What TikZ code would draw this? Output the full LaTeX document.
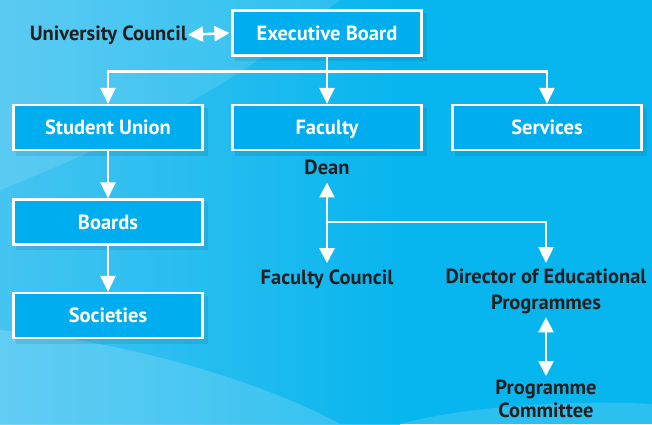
\documentclass[tikz,border=0pt]{standalone}
\usepackage{fontspec}
\setmainfont{PT Sans}
\usetikzlibrary{arrows.meta,calc}
\definecolor{bgbase}{HTML}{08B6EF}
\definecolor{bglight}{HTML}{55C8F2}
\definecolor{boxfill}{HTML}{00ADEE}
\definecolor{ink}{HTML}{231F20}
\tikzset{
  orgbox/.style={draw=white, line width=2.2pt, fill=boxfill, minimum width=189pt, minimum height=45pt,
    inner sep=0pt, text height=14.5pt, text depth=0pt, text=white, font=\fontsize{20.5}{24}\selectfont\bfseries},
  lbl/.style={text=ink, font=\fontsize{20.5}{26}\selectfont\bfseries, align=center, inner sep=0pt},
  conn/.style={draw=white, line width=2.4pt},
  arr/.style={conn, -{Triangle[length=16pt,width=15pt]}},
  dbl/.style={conn, {Triangle[length=15pt,width=15pt]}-{Triangle[length=15pt,width=15pt]}},
}
\begin{document}
\begin{tikzpicture}[x=1pt,y=-1pt]
\useasboundingbox (0,0) rectangle (652,424);
% background
\fill[bgbase] (0,0) rectangle (652,424);
\shade[left color=bglight, right color=bgbase, opacity=0.8] (0,0) rectangle (400,424);
\fill[white, opacity=0.12] (0,0) -- (340,0) .. controls (260,60) and (200,110) .. (0,190) -- cycle;
\fill[white, opacity=0.16] (0,330) .. controls (120,340) and (260,380) .. (340,424) -- (0,424) -- cycle;
\fill[white, opacity=0.15] (400,424) .. controls (470,405) and (580,400) .. (652,404) -- (652,424) -- cycle;
% shadows
\foreach \cx/\cy in {327/33, 108/127.5, 327/127.5, 547/127.5, 108/222, 108/315.5}
  \fill[black, opacity=0.08] (\cx-92,\cy-20) rectangle (\cx+100,\cy+28);
% boxes
\node[orgbox] (eb) at (327,33) {Executive Board};
\node[orgbox] (su) at (108,127.5) {Student Union};
\node[orgbox] (fac) at (327,127.5) {Faculty};
\node[orgbox] (srv) at (547,127.5) {Services};
\node[orgbox] (brd) at (108,222) {Boards};
\node[orgbox] (soc) at (108,315.5) {Societies};
% labels
\node[lbl, anchor=base east] (uc) at (187,40) {University Council};
\node[lbl, anchor=base] (dean) at (327,174) {Dean};
\node[lbl, anchor=base] (fc) at (327,284) {Faculty Council};
\node[lbl, anchor=north] (dir) at (546,269) {Director of Educational\\Programmes};
\node[lbl, anchor=north, font=\fontsize{20.5}{23}\selectfont\bfseries] (pc) at (546,380) {Programme\\Committee};
% connectors
\coordinate (hub) at ($(eb.south)+(0,15)$);
\coordinate (fork) at ($(dean.base)+(0,48)$);
\draw[dbl] ([xshift=1pt]uc.east) -- ([xshift=-2pt]eb.west);
\draw[arr] (eb.south) -- (fac.north);
\draw[arr] (hub) -| (su.north);
\draw[arr] (hub) -| (srv.north);
\draw[arr] (su.south) -- (brd.north);
\draw[arr] (brd.south) -- (soc.north);
\draw[dbl] ([yshift=-8pt]dean.south) -- ([yshift=6pt]fc.north);
\draw[arr] (fork) -| ([yshift=6pt]dir.north);
\draw[dbl] ([yshift=-3pt]dir.south) -- ([yshift=4pt]pc.north);
\end{tikzpicture}
\end{document}
